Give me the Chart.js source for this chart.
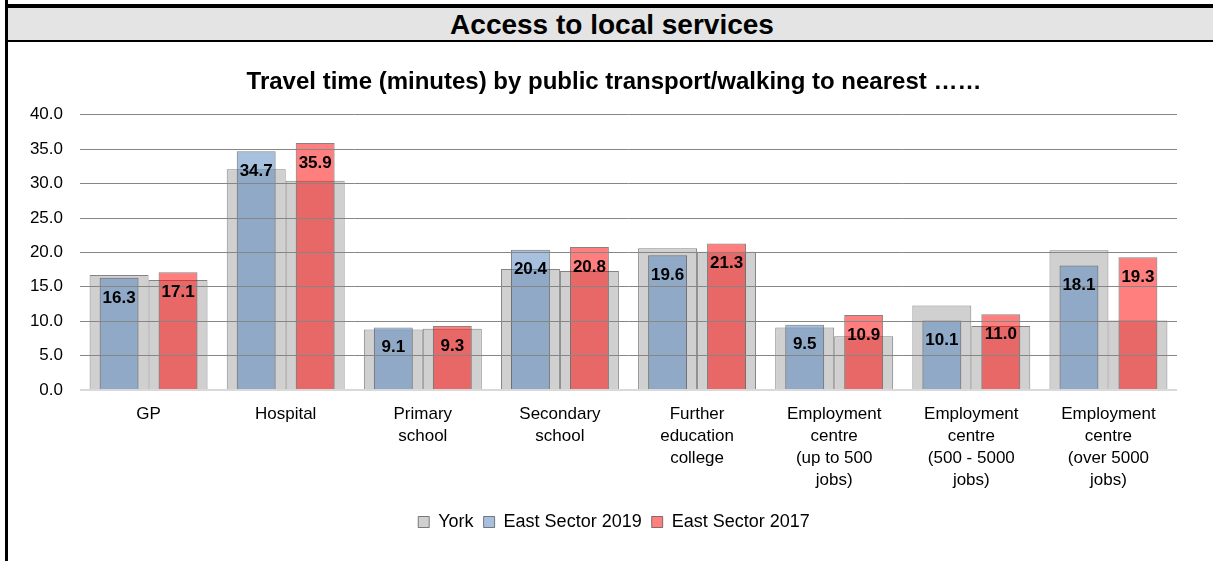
<!DOCTYPE html>
<html>
<head>
<meta charset="utf-8">
<script src="https://cdn.jsdelivr.net/npm/chart.js@4/dist/chart.umd.min.js"></script>
<style>
  html, body { margin: 0; padding: 0; background: #fff; }
  body { width: 1213px; height: 561px; position: relative; overflow: hidden; font-family: "Liberation Sans", Arial, sans-serif; }
  #leftbar { position: absolute; left: 5px; top: 0; width: 3px; height: 561px; background: #000; }
  #header { position: absolute; left: 5px; top: 4px; width: 1208px; height: 32px; background: #e4e4e4;
            border-top: 4px solid #000; border-bottom: 2px solid #000; border-left: 3px solid #000; box-sizing: content-box; }
  #header span { position: absolute; left: 0; right: 0; top: 0; height: 32px; line-height: 34px; text-align: center;
                 font-weight: bold; font-size: 28px; color: #000; }
  #wrap { position: absolute; left: 8px; top: 42px; width: 1205px; height: 519px; }
</style>
</head>
<body>
<div id="leftbar"></div>
<div id="header"><span>Access to local services</span></div>
<div id="wrap"><canvas id="chart"></canvas></div>
<script>
var categories = [
    'GP',
    'Hospital',
    ['Primary', 'school'],
    ['Secondary', 'school'],
    ['Further', 'education', 'college'],
    ['Employment', 'centre', '(up to 500', 'jobs)'],
    ['Employment', 'centre', '(500 - 5000', 'jobs)'],
    ['Employment', 'centre', '(over 5000', 'jobs)']
];
var yorkA = [16.7, 32.1, 8.8, 17.6, 20.6, 9.1, 12.3, 20.3];   // York behind 2019 bars
var yorkB = [16.0, 30.4, 8.9, 17.3, 20.1, 7.8, 9.3, 10.1];    // York behind 2017 bars
var east2019 = [16.3, 34.7, 9.1, 20.4, 19.6, 9.5, 10.1, 18.1];
var east2017 = [17.1, 35.9, 9.3, 20.8, 21.3, 10.9, 11.0, 19.3];
var yTicks = [0, 5, 10, 15, 20, 25, 30, 35, 40];

var grayFill = '#d0d0d0';
var barEdge = 'rgba(50,50,50,0.6)';
var fontFamily = '"Liberation Sans", Arial, sans-serif';

// values drawn inside the top of the coloured bars
var valueLabels = {
    id: 'valueLabels',
    afterDraw: function(chart) {
        var ctx = chart.ctx;
        ctx.save();
        ctx.font = 'bold 17px ' + fontFamily;
        ctx.fillStyle = '#000';
        ctx.textAlign = 'center';
        ctx.textBaseline = 'middle';
        chart.data.datasets.forEach(function(ds, i) {
            if (!ds.showValues) return;
            chart.getDatasetMeta(i).data.forEach(function(bar, j) {
                ctx.fillText(ds.data[j].toFixed(1), bar.x, bar.y + 20);
            });
        });
        ctx.restore();
    }
};

new Chart(document.getElementById('chart'), {
    type: 'bar',
    data: {
        labels: categories,
        datasets: [
            {
                label: 'York', data: yorkA, stack: 'a', order: 2,
                backgroundColor: grayFill, borderColor: barEdge, borderWidth: 1,
                categoryPercentage: 0.86, barPercentage: 1.0
            },
            {
                label: 'York ', data: yorkB, stack: 'b', order: 2,
                backgroundColor: grayFill, borderColor: barEdge, borderWidth: 1,
                categoryPercentage: 0.86, barPercentage: 1.0
            },
            {
                label: 'East Sector 2019', data: east2019, stack: 'a', order: 1, showValues: true,
                backgroundColor: 'rgba(79,129,189,0.5)', borderColor: barEdge, borderWidth: 1,
                categoryPercentage: 0.86, barPercentage: 0.66
            },
            {
                label: 'East Sector 2017', data: east2017, stack: 'b', order: 1, showValues: true,
                backgroundColor: 'rgba(255,0,0,0.5)', borderColor: barEdge, borderWidth: 1,
                categoryPercentage: 0.86, barPercentage: 0.66
            }
        ]
    },
    options: {
        responsive: true,
        maintainAspectRatio: false,
        animation: false,
        layout: {
            padding: { left: 7, right: 0, top: 0, bottom: 20 }
        },
        scales: {
            x: {
                grid: { display: false },
                border: { display: false },
                ticks: {
                    color: '#000',
                    padding: 5,
                    maxRotation: 0,
                    autoSkip: false,
                    font: { family: fontFamily, size: 17, lineHeight: 1.3 }
                },
                afterFit: function(scale) { scale.height = 113; }
            },
            y: {
                min: 0,
                max: 40,
                stacked: false,
                afterBuildTicks: function(scale) {
                    scale.ticks = yTicks.map(function(v) { return { value: v }; });
                },
                border: { display: false },
                grid: {
                    z: 1,   // lines run across the bars, as in the reference
                    drawTicks: false,
                    lineWidth: function(c) { return c.tick && c.tick.value === 0 ? 2 : 1; },
                    color: function(c) { return c.tick && c.tick.value === 0 ? '#d9d9d9' : '#868686'; }
                },
                ticks: {
                    color: '#000',
                    padding: 17,
                    font: { family: fontFamily, size: 17 },
                    callback: function(v) { return Number(v).toFixed(1); }
                },
                afterFit: function(scale) { scale.width = 65; }
            },
            // empty right-hand strip so the plot ends where the reference does
            yRight: {
                position: 'right',
                min: 0,
                max: 40,
                grid: { display: false },
                border: { display: false },
                ticks: { display: false },
                afterFit: function(scale) { scale.width = 36; }
            }
        },
        plugins: {
            title: {
                display: true,
                text: 'Travel time (minutes) by public transport/walking to nearest ……',
                color: '#000',
                font: { family: fontFamily, size: 24, weight: 'bold', lineHeight: 1.2 },
                padding: { top: 26, bottom: 18 }
            },
            legend: {
                position: 'bottom',
                labels: {
                    color: '#000',
                    boxWidth: 11,
                    boxHeight: 11,
                    padding: 10,
                    font: { family: fontFamily, size: 18 },
                    filter: function(item) { return item.text !== 'York '; },
                    sort: function(a, b) { return a.datasetIndex - b.datasetIndex; }
                }
            },
            tooltip: { enabled: false }
        }
    },
    plugins: [valueLabels]
});
</script>
</body>
</html>
